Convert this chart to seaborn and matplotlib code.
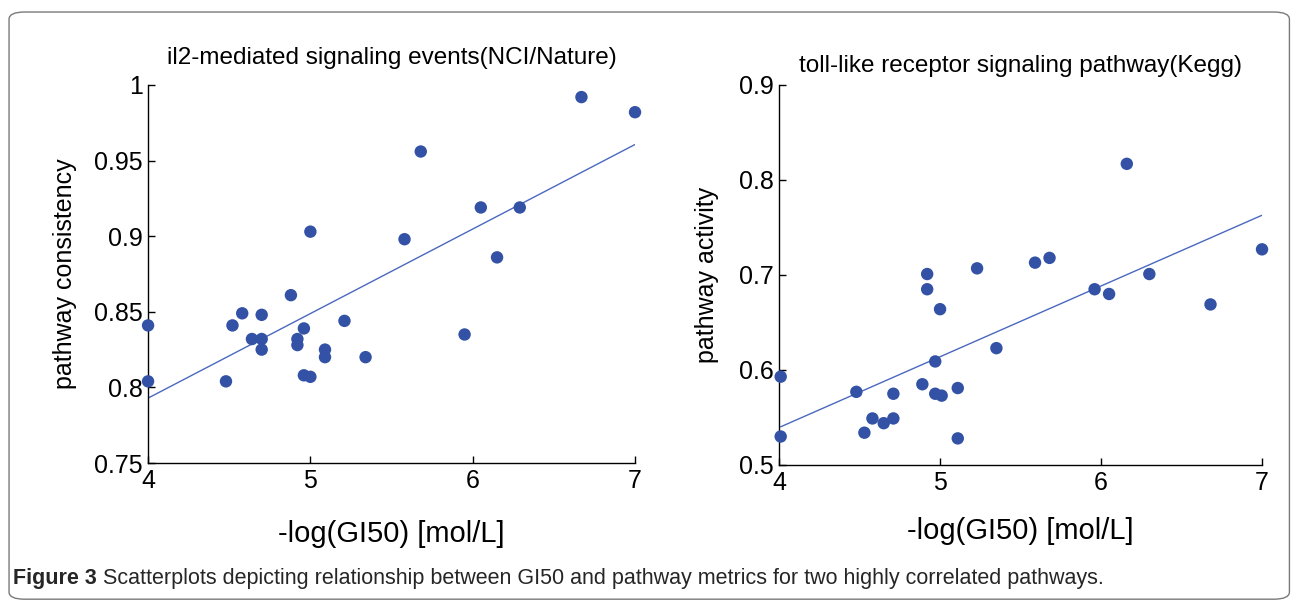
import numpy as np
import pandas as pd
import matplotlib.pyplot as plt
import seaborn as sns
from matplotlib.patches import FancyBboxPatch

# il2-mediated signaling events (NCI/Nature)
il2_gi50 = [4.0, 4.0, 4.48, 4.52, 4.58, 4.64, 4.70, 4.70, 4.70, 4.88,
            4.92, 4.92, 4.96, 4.96, 5.0, 5.0, 5.09, 5.09, 5.21, 5.34,
            5.58, 5.68, 5.95, 6.05, 6.15, 6.29, 6.67, 7.0]
il2_consistency = [0.841, 0.804, 0.804, 0.841, 0.849, 0.832, 0.848, 0.832, 0.825, 0.861,
                   0.832, 0.828, 0.839, 0.808, 0.807, 0.903, 0.825, 0.820, 0.844, 0.820,
                   0.898, 0.956, 0.835, 0.919, 0.886, 0.919, 0.992, 0.982]

# toll-like receptor signaling pathway (Kegg)
tlr_gi50 = [4.01, 4.01, 4.48, 4.53, 4.58, 4.65, 4.71, 4.71, 4.89, 4.92,
            4.92, 4.97, 4.97, 5.01, 5.0, 5.11, 5.11, 5.23, 5.35,
            5.59, 5.68, 5.96, 6.05, 6.16, 6.30, 6.68, 7.0]
tlr_activity = [0.593, 0.530, 0.577, 0.534, 0.549, 0.544, 0.575, 0.549, 0.585, 0.701,
                0.685, 0.609, 0.575, 0.573, 0.664, 0.581, 0.528, 0.707, 0.623,
                0.713, 0.718, 0.685, 0.680, 0.817, 0.701, 0.669, 0.727]

il2_yticks = [0.75, 0.8, 0.85, 0.9, 0.95, 1.0]
il2_ylabels = ['0.75', '0.8', '0.85', '0.9', '0.95', '1']
tlr_yticks = [0.5, 0.6, 0.7, 0.8, 0.9]
tlr_ylabels = ['0.5', '0.6', '0.7', '0.8', '0.9']
xticks = [4, 5, 6, 7]

sns.set_theme(style='white')
plt.rcParams['font.family'] = ['Liberation Sans', 'DejaVu Sans']

dot_color = '#3352a6'
line_color = '#4a68bf'

fig = plt.figure(figsize=(12.92, 6.01), dpi=100)
ax1 = fig.add_axes([0.1146, 0.2296, 0.3769, 0.629])
ax2 = fig.add_axes([0.6030, 0.2263, 0.3738, 0.6323])

panels = [
    (ax1, il2_gi50, il2_consistency, il2_yticks, il2_ylabels,
     'il2-mediated signaling events(NCI/Nature)', 'pathway consistency', 15, 12, 20),
    (ax2, tlr_gi50, tlr_activity, tlr_yticks, tlr_ylabels,
     'toll-like receptor signaling pathway(Kegg)', 'pathway activity', 9, 14, 16),
]

for ax, xs, ys, yt, yl, title, ylabel, pad, ypad, xpad in panels:
    df = pd.DataFrame({'x': xs, 'y': ys})
    # least-squares fit line, then the points on top
    sns.regplot(data=df, x='x', y='y', ax=ax, ci=None, scatter=False,
                line_kws={'color': line_color, 'lw': 1.0})
    sns.scatterplot(data=df, x='x', y='y', ax=ax, s=80, color=dot_color,
                    edgecolor='none', clip_on=False, zorder=3)
    ax.set_xlim(4, 7)
    ax.set_ylim(yt[0], yt[-1])
    ax.set_xticks(xticks)
    ax.set_xticklabels([str(t) for t in xticks])
    ax.set_yticks(yt)
    ax.set_yticklabels(yl)
    ax.tick_params(direction='in', length=5, width=1, labelsize=18,
                   color='black', labelcolor='black', left=True, bottom=True, pad=4)
    for side in ['top', 'right']:
        ax.spines[side].set_visible(False)
    for side in ['left', 'bottom']:
        ax.spines[side].set_color('black')
        ax.spines[side].set_linewidth(1)
    ax.set_title(title, fontsize=17.5, pad=pad, color='black')
    ax.set_xlabel('-log(GI50) [mol/L]', fontsize=21, labelpad=xpad, color='black')
    ax.set_ylabel(ylabel, fontsize=18, labelpad=ypad, color='black')

# caption
renderer = fig.canvas.get_renderer()
cap_bold = fig.text(0.010, 0.038, 'Figure 3', fontsize=15.5, fontweight='bold', va='center')
bb = cap_bold.get_window_extent(renderer=renderer)
x_next = (bb.x1 + 6) / fig.bbox.width
fig.text(x_next, 0.038,
         'Scatterplots depicting relationship between GI50 and pathway metrics for two highly correlated pathways.',
         fontsize=15.5, va='center')

# rounded frame around the figure panel
frame = FancyBboxPatch((0.007, 0.003), 0.991, 0.977, boxstyle='round,pad=0,rounding_size=0.012',
                       transform=fig.transFigure, fill=False, edgecolor='#7a7a7a', lw=1.0)
fig.patches.append(frame)

fig.savefig('out.png', dpi=100)
